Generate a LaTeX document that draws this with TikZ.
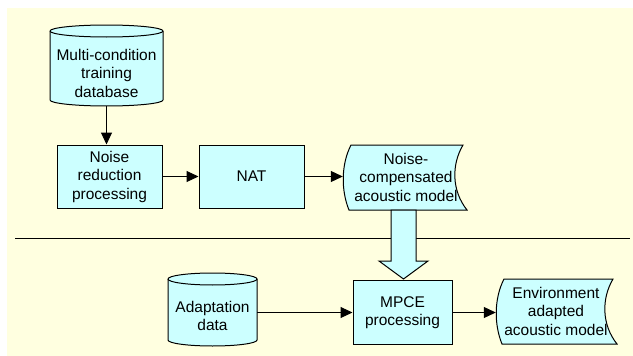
\documentclass[tikz,border=0pt]{standalone}
\usepackage{fontspec}
\setmainfont{Liberation Sans}
\usetikzlibrary{arrows.meta}
\definecolor{bgc}{HTML}{FFFFE0}
\definecolor{nodec}{HTML}{CCFFFF}
\begin{document}
\begin{tikzpicture}[x=1pt,y=-1pt,
  txt/.style={inner sep=0pt, align=center, font=\fontsize{15.5pt}{18.5pt}\selectfont},
  box/.style={txt, draw, fill=nodec, line width=1pt},
  ghost/.style={inner sep=0pt, draw=none},
  outline/.style={draw, fill=nodec, line width=1pt},
  arr/.style={line width=1pt, -{Triangle[length=12pt,width=11pt]}}]
\useasboundingbox (0,0) rectangle (633,356);
\fill[bgc] (7,8) rectangle (633,356);

% separator
\coordinate (sepL) at (15,238);
\coordinate (sepR) at (630,238);
\draw[line width=1pt] (sepL) -- (sepR);

% top cylinder
\draw[outline] (50,31) -- (50,100) arc[start angle=180,end angle=0,x radius=56.5,y radius=6]
  -- (163,31) arc[start angle=0,end angle=-180,x radius=56.5,y radius=6] -- cycle;
\draw[line width=1pt] (50,31) arc[start angle=180,end angle=0,x radius=56.5,y radius=6];
\node[ghost, minimum width=113pt, minimum height=81pt] (db) at (106.5,65.5) {};
\node[txt] (dbtxt) at (106.5,73) {Multi-condition\\training\\database};

% boxes
\node[box, minimum width=105pt, minimum height=63pt] (nr) at (109.5,176.5) {Noise\\reduction\\processing};
\node[box, minimum width=105pt, minimum height=63pt] (nat) at (251.5,176.5) {NAT};

% noise-compensated model (stored data shape)
\draw[outline] (351,145) -- (463,145)
  .. controls (451.5,164.5) and (451.5,190.5) .. (467,210)
  -- (349,210)
  .. controls (341,190.5) and (341,164.5) .. (351,145) -- cycle;
\node[ghost, minimum width=124pt, minimum height=65pt] (ncam) at (405,177.5) {};
\node[txt] (ncamtxt) at (406,177) {Noise-\\compensated\\acoustic model};

% hollow arrow
\draw[outline] (391,210) -- (391,261) -- (379,261) -- (403.5,279) -- (428,261) -- (416,261) -- (416,210) -- cycle;

% adaptation cylinder
\draw[outline] (168,279) -- (168,340) arc[start angle=180,end angle=0,x radius=44.5,y radius=6]
  -- (257,279) arc[start angle=0,end angle=-180,x radius=44.5,y radius=6] -- cycle;
\draw[line width=1pt] (168,279) arc[start angle=180,end angle=0,x radius=44.5,y radius=6];
\node[ghost, minimum width=89pt, minimum height=73pt] (ad) at (212.5,309.5) {};
\node[txt] (adtxt) at (212.5,316) {Adaptation\\data};

% MPCE
\node[box, minimum width=99pt, minimum height=64pt] (mpce) at (402.5,312.5) {MPCE\\processing};

% environment adapted model
\draw[outline] (504,279) -- (613,279)
  .. controls (601.5,298.5) and (601.5,324.5) .. (617,344)
  -- (502,344)
  .. controls (494,324.5) and (494,298.5) .. (504,279) -- cycle;
\node[ghost, minimum width=121pt, minimum height=65pt] (eaam) at (556.5,311.5) {};
\node[txt] (eaamtxt) at (556,311) {Environment\\adapted\\acoustic model};

% connectors
\draw[arr] (db.south) -- (db.south |- nr.north);
\draw[arr] (nr.east) -- (nat.west);
\draw[arr] (nat.east) -- (nat.east -| ncam.west);
\draw[arr] (ad.east |- mpce.west) -- (mpce.west);
\draw[arr] (mpce.east) -- (mpce.east -| eaam.west);
\end{tikzpicture}
\end{document}
